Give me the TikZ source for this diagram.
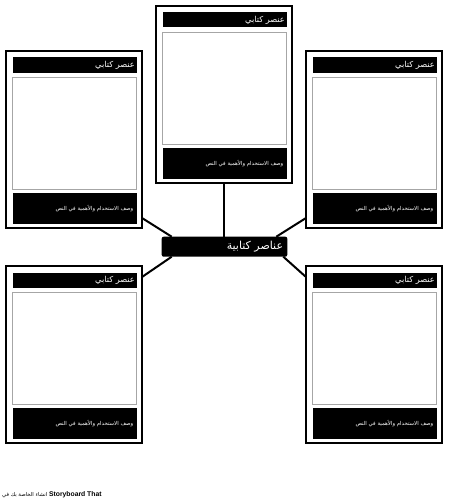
\documentclass[tikz,border=0pt]{standalone}
\usepackage{fontspec}
\setmainfont{Liberation Sans}
\newfontfamily\arabicfont[Script=Arabic]{DejaVu Sans}
\TeXXeTstate=1
\usetikzlibrary{calc}
\tikzset{
  cardframe/.style={rectangle, draw=black, line width=2pt, fill=white, minimum width=136pt, minimum height=177pt, inner sep=0pt, outer sep=0pt, anchor=north west},
  titlebar/.style={rectangle, fill=black, minimum width=124pt, minimum height=15pt, inner sep=0pt, outer sep=0pt, anchor=north west},
  picbox/.style={rectangle, draw=black!35, line width=0.7pt, fill=white, minimum width=124pt, minimum height=112pt, inner sep=0pt, outer sep=0pt, anchor=north west},
  descbar/.style={rectangle, fill=black, minimum width=124pt, minimum height=31pt, inner sep=0pt, outer sep=0pt, anchor=north west},
  titletext/.style={anchor=east, text=white, inner sep=0pt, font=\arabicfont\fontsize{8.2}{9}\selectfont},
  desctext/.style={anchor=east, text=white, inner sep=0pt, font=\arabicfont\fontsize{5.4}{6}\selectfont},
  centerbox/.style={rectangle, fill=black, rounded corners=2pt, minimum width=125.6pt, minimum height=20pt, inner sep=0pt, outer sep=0pt, anchor=north west},
  centertext/.style={anchor=east, text=white, inner sep=0pt, font=\arabicfont\fontsize{11}{13}\selectfont},
  link/.style={draw=black, line width=2pt},
}
\newcommand\mycard[3]{%
  \node[cardframe] (#1) at (#2,#3) {};
  \node[titlebar] (#1t) at ($(#1.north west)+(6.5,6.5)$) {};
  \node[titletext] (#1tt) at ($(#1t.east)+(-1.5,0)$) {\beginR عنصر كتابي\endR};
  \node[picbox] (#1p) at ($(#1.north west)+(6.5,26)$) {};
  \node[descbar] (#1d) at ($(#1.north west)+(6.5,142)$) {};
  \node[desctext] (#1dt) at ($(#1d.east)+(-3,0)$) {\beginR وصف الاستخدام والأهمية في النص\endR};
}
\begin{document}
\begin{tikzpicture}[x=1pt,y=-1pt]
\useasboundingbox[fill=white] (0,0) rectangle (450,503);
% center node
\node[centerbox] (C) at (161.7,236.7) {};
\node[centertext] (Ct) at ($(C.east)+(-4,0)$) {\beginR عناصر كتابية\endR};
% cards
\mycard{T}{156}{6}
\mycard{L}{6}{51}
\mycard{R}{306}{51}
\mycard{BL}{6}{266}
\mycard{BR}{306}{266}
% connectors
\draw[link] (T.south) -- (T.south |- C.north);
\draw[link] ($(L.south east)+(0,-10)$) -- ($(C.north west)+(10,0)$);
\draw[link] ($(C.south west)+(10,0)$) -- ($(BL.north east)+(0,11)$);
\draw[link] ($(C.north east)+(-11,0)$) -- ($(R.south west)+(0,-10)$);
\draw[link] ($(C.south east)+(-4,0)$) -- ($(BR.north west)+(0,11)$);
% footer
\node[anchor=west, inner sep=0pt] (F) at (2,495) {{\arabicfont\fontsize{5.3}{6}\selectfont\beginR انشاء الخاصة بك في\endR}\,{\bfseries\fontsize{6.8}{8}\selectfont Storyboard That}};
\end{tikzpicture}
\end{document}
